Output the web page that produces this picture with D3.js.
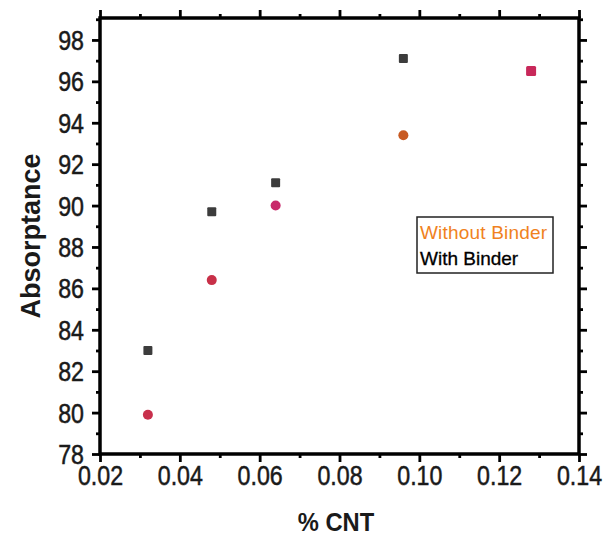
<!DOCTYPE html>
<html><head><meta charset="utf-8">
<script src="https://cdn.jsdelivr.net/npm/d3@7"></script>
<style>
html,body{margin:0;padding:0;background:#fff;}
svg{display:block;}
text{font-family:"Liberation Sans",Arial,sans-serif;}
</style></head>
<body>
<div id="chart"></div>
<script>
// ---- data ----
const cntWith = [0.032, 0.048, 0.064, 0.096];
const absWith = [83.0, 89.7, 91.1, 97.1];
const cntWithout = [0.032, 0.048, 0.064, 0.096, 0.128];
const absWithout = [79.9, 86.4, 90.0, 93.4, 96.5];
const seriesNames = ["Without Binder", "With Binder"];
const xTicks = [0.02, 0.04, 0.06, 0.08, 0.10, 0.12, 0.14];
const yTicks = [78, 80, 82, 84, 86, 88, 90, 92, 94, 96, 98];

// ---- styles ----
const withoutColors = ["#c8304c", "#c83048", "#c8286a", "#c85a22", "#c8285a"];
const withoutShapes = ["circle", "circle", "circle", "circle", "square"];

const W = 604, H = 538;
const svg = d3.select("#chart").append("svg").attr("width", W).attr("height", H);

const x = d3.scaleLinear().domain([0.02, 0.14]).range([100, 579]);
const y = d3.scaleLinear().domain([78, 99.06]).range([454, 18]);

const xMinor = d3.range(0.03, 0.14, 0.02);
const yMinor = d3.range(79, 99.5, 2);

function styleAxis(g) {
  g.select(".domain").remove();
  g.selectAll(".tick line").attr("stroke", "#000").attr("stroke-width", 2.8);
}

// minor ticks
function minor(axisFn, scale, vals, translate) {
  const g = svg.append("g").attr("transform", translate)
    .call(axisFn(scale).tickValues(vals).tickSize(4).tickFormat(""));
  styleAxis(g);
}
minor(d3.axisBottom, x, xMinor, "translate(0,454)");
minor(d3.axisTop, x, xMinor, "translate(0,18)");
minor(d3.axisLeft, y, yMinor, "translate(100,0)");
minor(d3.axisRight, y, yMinor, "translate(579,0)");

// major ticks
const gx = svg.append("g").attr("transform", "translate(0,454)")
  .call(d3.axisBottom(x).tickValues(xTicks).tickSize(8).tickPadding(6).tickFormat(d3.format(".2f")));
styleAxis(gx);
gx.selectAll(".tick text").attr("font-size", 27).attr("fill", "#1a1a1a")
  .attr("stroke", "#1a1a1a").attr("stroke-width", 0.5)
  .attr("font-family", "Liberation Sans, Arial, sans-serif")
  .attr("transform", "scale(0.86,1)").attr("y", 12).attr("dy", "0.71em");

const gxt = svg.append("g").attr("transform", "translate(0,18)")
  .call(d3.axisTop(x).tickValues(xTicks).tickSize(8).tickFormat(""));
styleAxis(gxt);

const gy = svg.append("g").attr("transform", "translate(100,0)")
  .call(d3.axisLeft(y).tickValues(yTicks).tickSize(8).tickFormat(d3.format("d")));
styleAxis(gy);
gy.selectAll(".tick text").attr("font-size", 27).attr("fill", "#1a1a1a")
  .attr("stroke", "#1a1a1a").attr("stroke-width", 0.5)
  .attr("font-family", "Liberation Sans, Arial, sans-serif")
  .attr("x", -16 / 0.86).attr("dy", "0.35em")
  .attr("transform", "scale(0.86,1)");

const gyr = svg.append("g").attr("transform", "translate(579,0)")
  .call(d3.axisRight(y).tickValues(yTicks).tickSize(8).tickFormat(""));
styleAxis(gyr);

// frame
svg.append("rect").attr("x", x(0.02)).attr("y", y(99.06))
  .attr("width", x(0.14) - x(0.02)).attr("height", y(78) - y(99.06))
  .attr("fill", "none").attr("stroke", "#000").attr("stroke-width", 3.5);

// points: with binder
svg.append("g").selectAll("rect").data(cntWith).join("rect")
  .attr("x", (d) => x(d) - 4.5).attr("y", (d, i) => y(absWith[i]) - 4.5)
  .attr("width", 9).attr("height", 9).attr("rx", 1)
  .attr("fill", "#3c3c3c");

// points: without binder
const gw = svg.append("g");
cntWithout.forEach((d, i) => {
  if (withoutShapes[i] === "square") {
    gw.append("rect").attr("x", x(d) - 5).attr("y", y(absWithout[i]) - 5)
      .attr("width", 10).attr("height", 10).attr("rx", 1.5).attr("fill", withoutColors[i]);
  } else {
    gw.append("circle").attr("cx", x(d)).attr("cy", y(absWithout[i]))
      .attr("r", 5).attr("fill", withoutColors[i]);
  }
});

// legend
svg.append("rect").attr("x", 417).attr("y", 217).attr("width", 136).attr("height", 56)
  .attr("fill", "#fff").attr("stroke", "#222").attr("stroke-width", 1.5);
svg.append("text").attr("x", 420).attr("y", 239)
  .attr("font-size", 19).attr("fill", "#f0821e").attr("textLength", 127).text(seriesNames[0]);
svg.append("text").attr("x", 420).attr("y", 265)
  .attr("font-size", 19).attr("fill", "#000").attr("stroke", "#000").attr("stroke-width", 0.3)
  .text(seriesNames[1]);

// axis titles
svg.append("text").attr("transform", "translate(336,531) scale(0.95,1)")
  .attr("text-anchor", "middle").attr("font-size", 25).attr("font-weight", "bold")
  .attr("fill", "#1a1a1a").text("% CNT");
svg.append("text").attr("transform", "translate(40,236) rotate(-90)")
  .attr("text-anchor", "middle").attr("font-size", 27).attr("font-weight", "bold")
  .attr("fill", "#1a1a1a").text("Absorptance");
</script>
</body></html>
